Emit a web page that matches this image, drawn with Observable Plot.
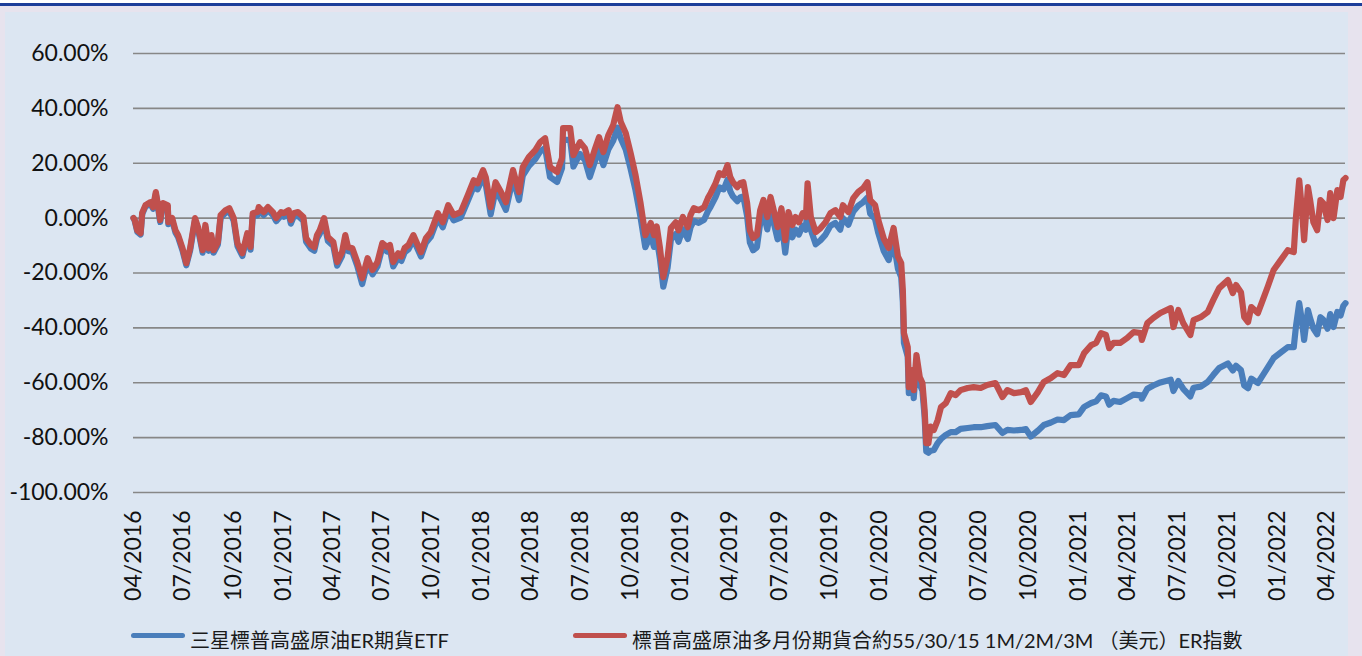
<!DOCTYPE html>
<html>
<head>
<meta charset="utf-8">
<script src="https://cdn.jsdelivr.net/npm/d3@7"></script>
<script src="https://cdn.jsdelivr.net/npm/@observablehq/plot@0.6"></script>
<style>
  html, body { margin: 0; padding: 0; width: 1362px; height: 656px; overflow: hidden; background: #ffffff; }
  #topline { position: absolute; left: 0; top: 3px; width: 1362px; height: 3px; background: #1d3e9a; }
  #frame { position: absolute; left: 0; top: 6px; width: 1362px; height: 650px; background: #e7e3ee; }
  #panel { position: absolute; left: 5px; top: 12px; width: 1343px; height: 644px; background: #dce6f2; }
  #chart { position: absolute; left: 0; top: 0; }
  .sw { position: absolute; height: 5px; border-radius: 3px; }
  .lt { position: absolute; font-family: Lato, "Noto Sans CJK TC", sans-serif; font-size: 20px; line-height: 20px; color: #1a1a1a; white-space: nowrap; }
</style>
</head>
<body>
<div id="topline"></div>
<div id="frame"></div>
<div id="panel"></div>
<div id="chart"></div>
<div id="legend"></div>
<script>
// ---- Data (cumulative return, %) ----
const seriesNames = ["三星標普高盛原油ER期貨ETF", "標普高盛原油多月份期貨合約55/30/15 1M/2M/3M （美元）ER指數"];
const seriesColors = ["#4a7ebb", "#c0504d"];
const yTicks = [-100, -80, -60, -40, -20, 0, 20, 40, 60];
const quarterLabels = ["04/2016","07/2016","10/2016","01/2017","04/2017","07/2017","10/2017","01/2018","04/2018","07/2018","10/2018","01/2019","04/2019","07/2019","10/2019","01/2020","04/2020","07/2020","10/2020","01/2021","04/2021","07/2021","10/2021","01/2022","04/2022"];

const dates = [
"2016-04-01","2016-04-03","2016-04-08","2016-04-14","2016-04-17","2016-04-23","2016-05-02","2016-05-07","2016-05-12","2016-05-16",
"2016-05-20","2016-05-25","2016-06-03","2016-06-04","2016-06-11","2016-06-17","2016-06-22","2016-06-30","2016-07-07","2016-07-14",
"2016-07-23","2016-07-29","2016-08-06","2016-08-11","2016-08-17","2016-08-22","2016-08-26","2016-09-03","2016-09-08","2016-09-17",
"2016-09-24","2016-10-02","2016-10-09","2016-10-18","2016-10-27","2016-11-02","2016-11-06","2016-11-15","2016-11-17","2016-11-26",
"2016-12-04","2016-12-13","2016-12-19","2016-12-28",
"2017-01-02","2017-01-11","2017-01-15","2017-01-20","2017-01-28","2017-02-07","2017-02-12","2017-02-21","2017-02-27","2017-03-04",
"2017-03-09","2017-03-17","2017-03-24","2017-04-03","2017-04-10","2017-04-19","2017-04-25","2017-04-30","2017-05-08","2017-05-17",
"2017-05-26","2017-06-05","2017-06-14","2017-06-23","2017-07-02","2017-07-11","2017-07-16","2017-07-22","2017-07-31","2017-08-06",
"2017-08-12","2017-08-19","2017-08-28","2017-09-11","2017-09-20","2017-09-29","2017-10-12","2017-10-21","2017-10-31","2017-11-10",
"2017-11-23","2017-12-06","2017-12-17","2017-12-24",
"2018-01-03","2018-01-08","2018-01-17","2018-01-26","2018-02-05","2018-02-14","2018-02-27","2018-03-10","2018-03-17","2018-03-28",
"2018-04-09","2018-04-18","2018-04-27","2018-05-06","2018-05-19","2018-05-28","2018-05-30","2018-06-12","2018-06-18","2018-06-30",
"2018-07-09","2018-07-18","2018-07-28","2018-08-04","2018-08-12","2018-08-21","2018-08-30","2018-09-07","2018-09-13","2018-09-22",
"2018-10-01","2018-10-10","2018-10-19","2018-10-28","2018-11-07","2018-11-13","2018-11-18","2018-11-24","2018-11-30","2018-12-08",
"2018-12-14","2018-12-23","2018-12-28",
"2019-01-05","2019-01-14","2019-01-19","2019-01-25","2019-02-03","2019-02-13","2019-02-20","2019-02-25","2019-03-06","2019-03-13",
"2019-03-21","2019-03-28","2019-04-02","2019-04-07","2019-04-15","2019-04-20","2019-04-26","2019-05-03","2019-05-08","2019-05-14",
"2019-05-21","2019-05-27","2019-06-02","2019-06-09","2019-06-15","2019-06-20","2019-06-28","2019-07-05","2019-07-12","2019-07-18",
"2019-07-25","2019-07-31","2019-08-06","2019-08-13","2019-08-19","2019-08-22","2019-08-28","2019-09-06","2019-09-15","2019-09-24",
"2019-10-03","2019-10-12","2019-10-21","2019-10-26","2019-11-05","2019-11-14","2019-11-23","2019-12-02","2019-12-10","2019-12-15",
"2019-12-24","2019-12-30",
"2020-01-09","2020-01-18","2020-01-27","2020-02-04","2020-02-10","2020-02-13","2020-02-15","2020-02-22","2020-02-24","2020-03-02",
"2020-03-04","2020-03-09","2020-03-15","2020-03-20","2020-03-24","2020-03-27","2020-03-31","2020-04-04","2020-04-10","2020-04-17",
"2020-04-23","2020-05-02","2020-05-11","2020-05-20","2020-05-29","2020-06-11","2020-06-22","2020-07-05","2020-07-17","2020-08-01",
"2020-08-14","2020-08-23","2020-09-04","2020-09-17","2020-09-26","2020-10-05","2020-10-18","2020-10-29","2020-11-11","2020-11-23",
"2020-12-05","2020-12-17","2021-01-01",
"2021-01-11","2021-01-24","2021-02-02","2021-02-11","2021-02-20","2021-02-26","2021-03-06","2021-03-18","2021-03-31","2021-04-12",
"2021-04-25","2021-04-27","2021-05-07","2021-05-18","2021-05-31","2021-06-19","2021-06-24","2021-07-03","2021-07-12","2021-07-25",
"2021-07-31","2021-08-13","2021-08-26","2021-09-05","2021-09-16","2021-10-02","2021-10-11","2021-10-17","2021-10-26","2021-11-01",
"2021-11-08","2021-11-14","2021-11-26","2021-12-05","2021-12-14","2021-12-25",
"2022-01-07","2022-01-20","2022-01-31","2022-02-04","2022-02-10","2022-02-15","2022-02-19","2022-02-26","2022-03-02","2022-03-08",
"2022-03-15","2022-03-21","2022-03-26","2022-04-03","2022-04-08","2022-04-14","2022-04-21","2022-04-27","2022-05-02","2022-05-06"
];

// 標普高盛原油多月份期貨合約 ER 指數 (red)
const indexPct = [
0.0,-0.5,-4.5,-5.5,2.0,4.7,5.8,4.0,9.5,4.7,
-0.7,5.5,4.7,-1.5,0.0,-4.4,-6.2,-11.0,-16.4,-11.0,
0.0,-3.6,-11.7,-2.5,-11.0,-6.2,-11.7,-8.7,1.1,2.9,
3.6,0.0,-9.2,-12.8,-5.5,-10.5,1.8,2.2,4.0,2.2,
4.0,2.2,0.0,2.2,
1.8,2.9,-0.7,1.8,2.2,0.4,-7.3,-9.8,-10.6,-6.2,
-4.4,0.0,-6.9,-8.7,-16.0,-12.4,-6.2,-10.6,-11.0,-16.0,
-21.9,-14.6,-18.9,-16.0,-9.1,-10.6,-9.8,-16.0,-12.8,-14.0,
-10.9,-9.8,-6.2,-12.4,-7.3,-5.1,1.8,-1.5,4.7,1.1,
2.2,8.4,13.8,12.7,
17.5,14.9,4.0,13.1,9.5,5.8,17.5,9.5,18.6,22.2,
24.8,27.7,29.1,18.6,16.8,21.9,32.8,32.8,23.0,27.7,
25.5,19.3,25.5,29.5,24.1,30.2,33.9,40.4,35.0,31.0,
23.7,15.7,5.8,-6.2,-1.8,-6.2,-3.0,-11.0,-21.5,-14.2,
-3.6,-1.5,-4.4,
0.4,-3.3,1.1,3.6,2.9,4.0,7.3,9.1,12.7,16.4,
15.7,19.3,15.0,13.1,11.3,12.7,13.1,5.5,-4.4,-7.3,
-6.2,2.9,6.6,0.4,7.7,3.6,-3.3,3.6,-8.0,2.2,
-2.5,0.4,-1.5,1.8,0.4,12.7,0.4,-5.1,-3.6,-1.5,
1.8,2.9,0.4,4.7,2.2,7.3,9.5,10.9,13.1,6.6,
4.7,-0.7,
-7.5,-10.9,-3.6,-14.0,-16.4,-26.2,-41.9,-47.0,-61.6,-55.4,
-62.7,-49.9,-57.9,-60.1,-69.9,-82.0,-82.0,-76.0,-77.2,-73.6,
-68.9,-67.4,-63.8,-64.5,-62.7,-61.9,-61.6,-61.9,-60.8,-60.1,
-65.2,-62.7,-63.8,-63.4,-62.7,-67.0,-63.4,-59.7,-58.3,-56.5,
-57.2,-53.6,-53.6,
-49.2,-46.3,-45.5,-41.9,-42.6,-47.4,-45.5,-45.5,-43.7,-41.5,
-41.9,-44.4,-38.3,-36.4,-34.6,-32.8,-39.7,-33.5,-38.3,-42.6,
-37.2,-36.1,-34.2,-29.9,-25.5,-22.6,-27.3,-24.4,-27.0,-36.1,
-37.9,-32.4,-34.6,-29.9,-25.1,-18.9,
-15.3,-11.7,-12.4,0.4,13.8,2.9,-8.0,11.3,6.6,-1.5,
-4.4,6.6,5.5,-0.7,9.1,0.0,10.2,7.7,13.8,14.6
];

// 三星標普高盛原油ER期貨ETF (blue)
const etfPct = [
0.0,-0.8,-5.0,-6.0,1.5,4.2,5.2,3.4,8.8,4.0,
-1.4,4.8,4.0,-2.2,-0.8,-5.2,-7.0,-11.8,-17.2,-11.8,
-0.9,-4.5,-12.6,-3.4,-11.9,-7.1,-12.6,-9.6,0.1,1.9,
2.6,-1.0,-10.2,-13.8,-6.5,-11.5,0.7,1.1,2.9,1.1,
2.9,1.1,-1.1,1.0,
0.5,1.6,-2.0,0.5,0.9,-1.0,-8.6,-11.1,-11.9,-7.5,
-5.8,-1.4,-8.3,-10.1,-17.3,-13.8,-7.6,-12.0,-12.4,-17.4,
-24.0,-16.2,-20.5,-17.6,-10.7,-12.2,-11.4,-17.6,-14.4,-15.6,
-12.5,-11.4,-7.8,-14.0,-9.0,-6.8,0.0,-3.3,2.8,-0.8,
0.2,6.3,11.6,10.5,
14.8,12.2,1.4,10.3,6.7,3.0,14.5,6.6,15.5,19.0,
21.5,24.3,25.6,15.0,13.2,18.2,28.5,28.5,18.8,23.4,
21.2,15.0,21.0,24.8,19.3,25.0,28.2,33.0,29.0,25.0,
18.0,10.2,0.6,-10.6,-6.2,-10.5,-7.4,-15.0,-25.0,-18.0,
-7.8,-5.8,-8.6,
-4.0,-7.6,-3.4,-1.0,-1.7,-0.6,2.5,4.2,7.7,11.2,
10.5,14.0,9.8,7.9,6.2,7.5,7.9,0.7,-8.8,-11.7,
-10.6,-1.8,1.8,-4.1,2.8,-1.0,-7.7,-1.0,-12.6,-2.4,
-7.0,-4.2,-6.0,-2.8,-4.2,6.0,-4.2,-9.5,-8.0,-6.0,
-2.8,-1.8,-4.2,0.0,-2.4,2.4,4.5,5.8,7.5,1.6,
-0.3,-5.5,
-12.0,-15.3,-8.4,-18.5,-21.5,-30.5,-45.5,-50.5,-63.8,-58.3,
-65.6,-53.0,-60.5,-63.0,-72.5,-85.0,-85.5,-84.8,-84.5,-82.0,
-80.5,-79.0,-78.0,-78.0,-76.8,-76.5,-76.2,-76.2,-75.8,-75.4,
-78.3,-77.2,-77.4,-77.2,-76.9,-79.6,-77.5,-75.4,-74.5,-73.4,
-73.6,-71.8,-71.5,
-68.8,-67.4,-66.8,-64.6,-65.0,-68.0,-66.6,-67.0,-65.6,-64.3,
-64.6,-65.8,-62.2,-61.0,-59.9,-58.9,-63.0,-59.4,-62.2,-65.0,
-61.8,-61.4,-59.7,-57.2,-54.6,-53.0,-55.5,-53.8,-55.4,-61.0,
-62.0,-58.5,-60.1,-57.3,-54.5,-51.0,
-49.0,-47.0,-47.0,-39.5,-31.0,-37.5,-44.4,-33.5,-36.5,-40.2,
-42.3,-36.1,-37.0,-40.3,-35.0,-39.7,-34.2,-35.5,-32.0,-31.0
];

// ---- Build ----
const parseDay = d3.utcParse("%Y-%m-%d");
const parseQ = d3.utcParse("%m/%Y");
const n = Math.min(dates.length, indexPct.length, etfPct.length);
if (dates.length !== indexPct.length || dates.length !== etfPct.length) console.error("length mismatch", dates.length, indexPct.length, etfPct.length);
const rows = d3.range(n).map(i => ({date: parseDay(dates[i]), etf: etfPct[i], idx: indexPct[i]}));
const tickDates = quarterLabels.map(parseQ);

const chart = Plot.plot({
  width: 1362,
  height: 600,
  marginLeft: 133,
  marginRight: 17,
  marginTop: 53,
  marginBottom: 108,
  style: {background: "transparent", fontFamily: "Lato, 'Noto Sans CJK TC', sans-serif", color: "#111", overflow: "visible"},
  x: {type: "utc", domain: [parseDay("2016-04-01"), parseDay("2022-05-06")]},
  y: {domain: [-100, 60]},
  marks: [
    Plot.ruleY(yTicks, {stroke: "#878787", strokeWidth: 1.6}),
    Plot.axisY(yTicks, {anchor: "left", tickSize: 0, tickPadding: 25, fontSize: 23, tickFormat: d => d.toFixed(2) + "%"}),
    Plot.axisX(tickDates, {anchor: "bottom", tickSize: 0, tickPadding: 18, tickRotate: -90, fontSize: 23, tickFormat: d3.utcFormat("%m/%Y")}),
    Plot.line(rows, {x: "date", y: "etf", stroke: seriesColors[0], strokeWidth: 6.2, strokeLinejoin: "round", strokeLinecap: "round"}),
    Plot.line(rows, {x: "date", y: "idx", stroke: seriesColors[1], strokeWidth: 6.2, strokeLinejoin: "round", strokeLinecap: "round"})
  ]
});
document.getElementById("chart").appendChild(chart);

// ---- Legend below the plot ----
const legend = document.getElementById("legend");
const legendPos = [{sw: 131, tx: 190}, {sw: 573, tx: 632}];
seriesNames.forEach((name, i) => {
  const sw = document.createElement("div");
  sw.className = "sw";
  sw.style.left = legendPos[i].sw + "px";
  sw.style.top = "633px";
  sw.style.width = "54px";
  sw.style.background = seriesColors[i];
  legend.appendChild(sw);
  const t = document.createElement("div");
  t.className = "lt";
  t.style.left = legendPos[i].tx + "px";
  t.style.top = "630px";
  t.textContent = name;
  legend.appendChild(t);
});
</script>
</body>
</html>
